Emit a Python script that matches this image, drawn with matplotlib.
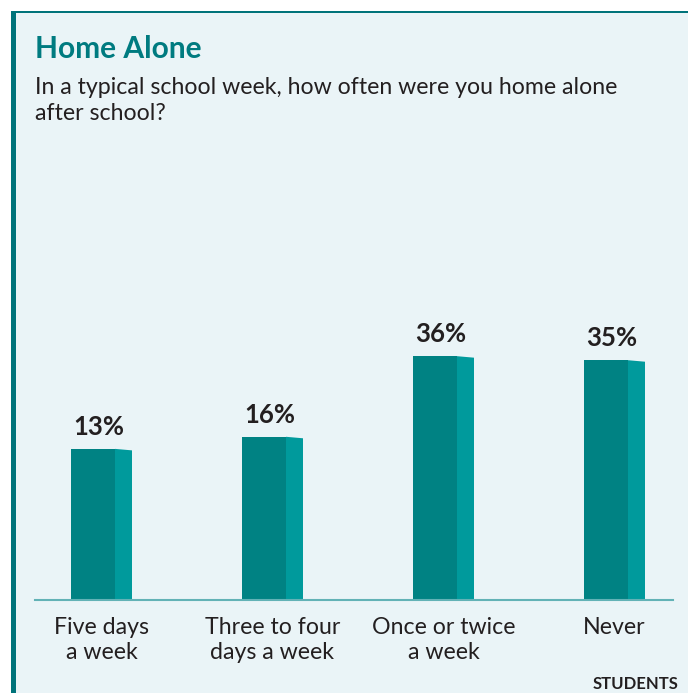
import numpy as np
import matplotlib.pyplot as plt
from matplotlib.patches import Rectangle

# dados
categorias = ['Five days\na week', 'Three to four\ndays a week', 'Once or twice\na week', 'Never']
valores = [13, 16, 36, 35]
rotulos = ['13%', '16%', '36%', '35%']

titulo = 'Home Alone'
subtitulo = 'In a typical school week, how often were you home alone\nafter school?'
fonte = 'STUDENTS'

W, H = 688, 693
cor_fundo = '#EAF4F7'
cor_teal = '#007B80'
cor_frente = '#008283'
cor_lado = '#009A9C'
cor_texto = '#231F20'

plt.rcParams['font.family'] = ['Lato', 'DejaVu Sans']

fig = plt.figure(figsize=(W / 100, H / 100), dpi=100)
fig.patch.set_facecolor('white')

def px(x, y):
    """converte pixels (origem no topo) para fração da figura"""
    return x / W, 1 - y / H

# painel de fundo + bordas
fig.patches.append(Rectangle(px(11, H), (W - 11) / W, (H - 11) / H,
                             transform=fig.transFigure, facecolor=cor_fundo, edgecolor='none', zorder=0))
fig.patches.append(Rectangle(px(11, H), 5 / W, (H - 11) / H,
                             transform=fig.transFigure, facecolor='#00737A', edgecolor='none', zorder=1))
fig.patches.append(Rectangle(px(11, 12.5), (W - 11) / W, 1.5 / H,
                             transform=fig.transFigure, facecolor='#00737A', edgecolor='none', zorder=1))

# títulos
fig.text(*px(35, 58), titulo, fontsize=21.5, fontweight='bold', color=cor_teal, va='baseline')
fig.text(*px(35, 94), subtitulo.split('\n')[0], fontsize=16.7, color=cor_texto, va='baseline')
fig.text(*px(35, 120), subtitulo.split('\n')[1], fontsize=16.7, color=cor_texto, va='baseline')
fig.text(*px(678, 689), fonte, fontsize=12, fontweight='bold', color=cor_texto, ha='right', va='baseline')

# eixo dos gráficos de barra
base = -24.5
px_por_pct = 4.03
alt_px = 300
ax = fig.add_axes([35 / W, 1 - 600 / H, 638 / W, alt_px / H])
ax.set_zorder(5)
ax.patch.set_alpha(0)
passo = 171.0
ax.set_xlim(-(101.5 - 35) / passo, 3 + (673 - 614.5) / passo)
ax.set_ylim(base, base + alt_px / px_por_pct)

x = np.arange(len(valores))
larg_frente = 44 / passo
larg_lado = 17 / passo
esq = x - 30.5 / passo
alturas = np.array(valores) - base

# face frontal e lateral (efeito 3D)
ax.bar(esq, alturas, width=larg_frente, bottom=base, align='edge', color=cor_frente, zorder=2)
queda = 1.5 / px_por_pct
for xi, v in zip(esq + larg_frente, valores):
    ax.fill([xi, xi, xi + larg_lado, xi + larg_lado], [base, v, v - queda, base],
            color=cor_lado, lw=0, zorder=2)

for xi, v, r in zip(x, valores, rotulos):
    ax.annotate(r, (xi - 3 / passo, v), xytext=(0, 10), textcoords='offset points',
                ha='center', va='baseline', fontsize=18.5, fontweight='bold', color=cor_texto,
                annotation_clip=False)

ax.axhline(base, color='#62B2B6', lw=1.5, zorder=3, clip_on=False)

ax.set_xticks(x)
ax.set_xticklabels(categorias, fontsize=16.7, color=cor_texto, linespacing=1.28)
ax.tick_params(axis='x', length=0, pad=12)
ax.set_yticks([])
for s in ax.spines.values():
    s.set_visible(False)

plt.savefig('out.png', dpi=100, facecolor=fig.get_facecolor())
